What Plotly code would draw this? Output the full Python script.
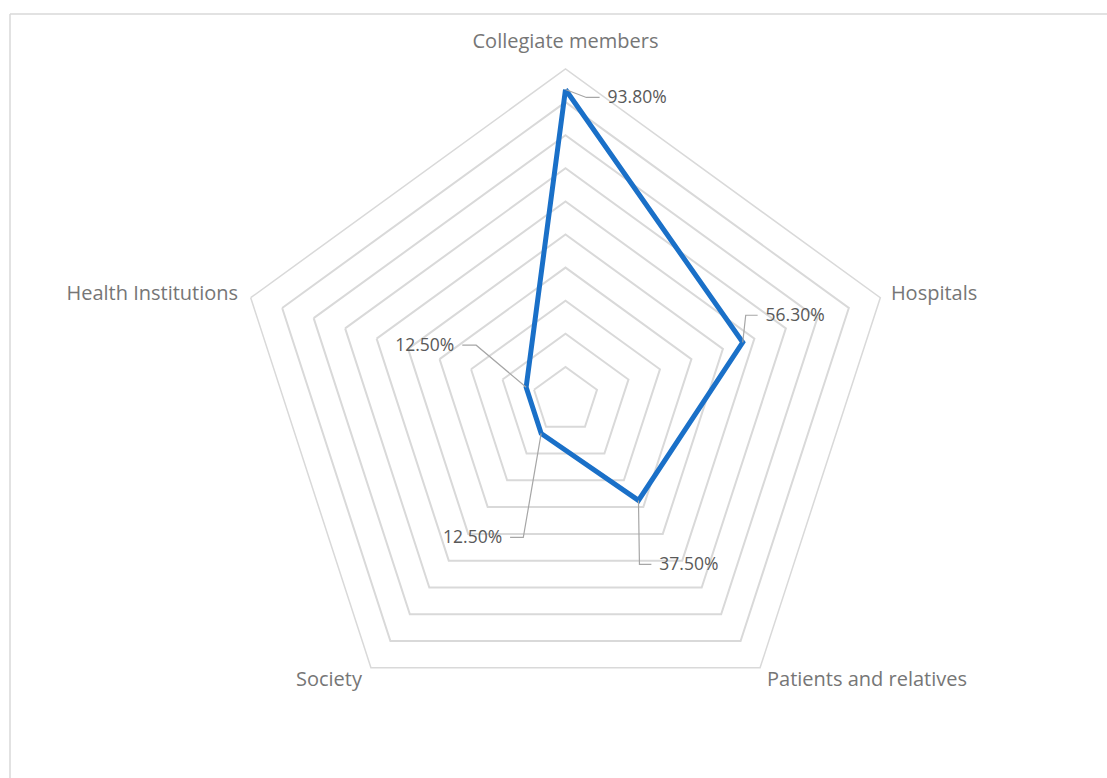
import math
import plotly.graph_objects as go

# ---- data ----
categories = ["Collegiate members", "Hospitals", "Patients and relatives", "Society", "Health Institutions"]
values = [0.938, 0.563, 0.375, 0.125, 0.125]
value_labels = ["93.80%", "56.30%", "37.50%", "12.50%", "12.50%"]

# ---- styling: leader-line offsets (in radial units, y up) ----
elbow_offsets = [(0.063, -0.024), (0.009, 0.082), (0.003, -0.193), (-0.054, -0.314), (-0.151, 0.127)]
end_offsets = [(0.103, -0.024), (0.045, 0.082), (0.039, -0.193), (-0.094, -0.314), (-0.193, 0.127)]
text_gap = [0.024, 0.024, 0.024, -0.024, -0.024]
text_dy = -0.005
label_sides = ["middle right", "middle right", "middle right", "middle left", "middle left"]
# category label offsets from outer vertex (radial units, y up)
cat_offsets = [(0.0, 0.079), (0.032, 0.008), (0.021, -0.040), (-0.027, -0.040), (-0.038, 0.008)]
cat_sides = ["middle center", "middle right", "middle right", "middle left", "middle left"]

W, H = 1107, 778
cx, cy, R = 565.5, 400, 331
dom_x = [(cx - R) / W, (cx + R) / W]
dom_y = [(H - cy - R) / H, (H - cy + R) / H]
# overlay subplot (labels/leaders) with a larger radial range, same scale
RMAX2 = 1.14
R2 = R * RMAX2
dom_x2 = [(cx - R2) / W, (cx + R2) / W]
dom_y2 = [max(0.0, (H - cy - R2) / H), min(1.0, (H - cy + R2) / H)]


def offset_point(r, theta_deg, dx, dy):
    phi = math.radians(90 - theta_deg)
    x = r * math.cos(phi) + dx
    y = r * math.sin(phi) + dy
    return math.hypot(x, y), 90 - math.degrees(math.atan2(y, x))


fig = go.Figure()

fig.add_trace(go.Scatterpolar(
    r=values + values[:1], theta=categories + categories[:1],
    mode="lines", line=dict(color="#1a70c8", width=5),
    subplot="polar", showlegend=False, hoverinfo="skip"))

n = len(categories)
text_r, text_t = [], []
for i, (v, e, t, g) in enumerate(zip(values, elbow_offsets, end_offsets, text_gap)):
    th = 360 * i / n
    r1, t1 = offset_point(v, th, *e)
    r2, t2 = offset_point(v, th, *t)
    fig.add_trace(go.Scatterpolar(
        r=[v, r1, r2], theta=[th, t1, t2], mode="lines",
        line=dict(color="#a6a6a6", width=1.2), subplot="polar2",
        showlegend=False, hoverinfo="skip"))
    r3, t3 = offset_point(v, th, t[0] + g, t[1] + text_dy)
    text_r.append(r3)
    text_t.append(t3)

fig.add_trace(go.Scatterpolar(
    r=text_r, theta=text_t, mode="text", text=value_labels,
    textposition=label_sides,
    textfont=dict(family="Open Sans", size=17.5, color="#595959"),
    subplot="polar2", showlegend=False, hoverinfo="skip"))

# category labels
cat_r, cat_t = [], []
for i, off in enumerate(cat_offsets):
    rr, tt = offset_point(1.0, 360 * i / n, *off)
    cat_r.append(rr)
    cat_t.append(tt)
fig.add_trace(go.Scatterpolar(
    r=cat_r, theta=cat_t, mode="text", text=categories,
    textposition=cat_sides,
    textfont=dict(family="Open Sans", size=20, color="#767676"),
    subplot="polar2", showlegend=False, hoverinfo="skip", cliponaxis=False))

fig.update_layout(
    width=W, height=H, autosize=False,
    margin=dict(l=0, r=0, t=0, b=0),
    paper_bgcolor="white",
    font=dict(family="Open Sans"),
    polar=dict(
        domain=dict(x=dom_x, y=dom_y),
        gridshape="linear",
        bgcolor="white",
        radialaxis=dict(range=[0, 1], dtick=0.1, showticklabels=False, ticks="",
                        showline=False, gridcolor="#d9d9d9", gridwidth=1.5),
        angularaxis=dict(rotation=90, direction="clockwise", showgrid=False,
                         showline=True, linecolor="#d9d9d9", linewidth=1.5, ticks="",
                         showticklabels=False),
    ),
    polar2=dict(
        domain=dict(x=dom_x2, y=dom_y2),
        bgcolor="rgba(0,0,0,0)",
        radialaxis=dict(range=[0, RMAX2], visible=False),
        angularaxis=dict(rotation=90, direction="clockwise", visible=False),
    ),
    shapes=[
        dict(type="line", xref="paper", yref="paper", x0=10 / W, x1=10 / W, y0=0, y1=(H - 14) / H,
             line=dict(color="#d9d9d9", width=1.5)),
        dict(type="line", xref="paper", yref="paper", x0=10 / W, x1=1, y0=(H - 14) / H, y1=(H - 14) / H,
             line=dict(color="#d9d9d9", width=1.5)),
    ],
)

fig.write_html("out.html")
